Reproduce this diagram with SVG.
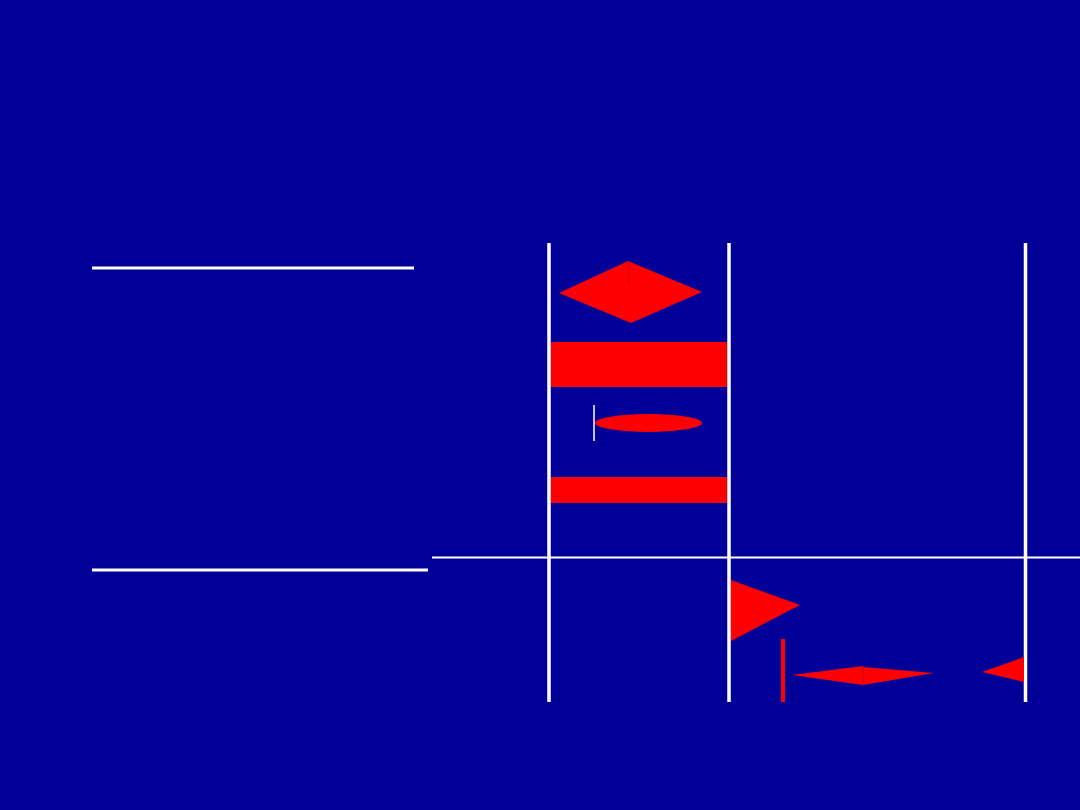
<svg xmlns="http://www.w3.org/2000/svg" width="1080" height="810" viewBox="0 0 1080 810">
<style>
.w{stroke:#ffffff;fill:none}
.r{fill:#ff0000;stroke:none}
.seam{stroke:#cc0000;stroke-width:1}
</style>
<rect x="0" y="0" width="1080" height="810" fill="#000099"/>
<g id="left-lines">
<line class="w" x1="92" y1="268" x2="414" y2="268" stroke-width="3"/>
<line class="w" x1="92" y1="570" x2="428" y2="570" stroke-width="3"/>
</g>
<g id="grid">
<line class="w" x1="432" y1="557.5" x2="1080" y2="557.5" stroke-width="2"/>
<line class="w" x1="549" y1="243" x2="549" y2="702" stroke-width="3.5"/>
<line class="w" x1="729" y1="243" x2="729" y2="702" stroke-width="3.5"/>
<line class="w" x1="1025.5" y1="243" x2="1025.5" y2="702" stroke-width="3.5"/>
</g>
<g id="diamond">
<polygon class="r" points="559,293 628,261 702,292 631,323"/>
<line class="seam" x1="629" y1="262" x2="629" y2="285"/>
</g>
<g id="bar1"><rect class="r" x="551" y="342" width="176" height="45"/></g>
<g id="ellipse">
<line class="w" x1="594" y1="405" x2="594" y2="441" stroke-width="1.5"/>
<ellipse class="r" cx="648.5" cy="423" rx="53.5" ry="9"/>
</g>
<g id="bar2"><rect class="r" x="551" y="477" width="176" height="26"/></g>
<g id="triangle"><polygon class="r" points="731,580 800,605 731,641"/></g>
<g id="red-bar"><rect class="r" x="781" y="639" width="4" height="63"/></g>
<g id="double-triangle">
<polygon class="r" points="792,675 863,666 863,685"/>
<polygon class="r" points="863,667 934,673 863,685"/>
<line class="seam" x1="863" y1="666" x2="863" y2="685"/>
</g>
<g id="small-triangle"><polygon class="r" points="982,672 1024,657 1024,682"/></g>
</svg>
